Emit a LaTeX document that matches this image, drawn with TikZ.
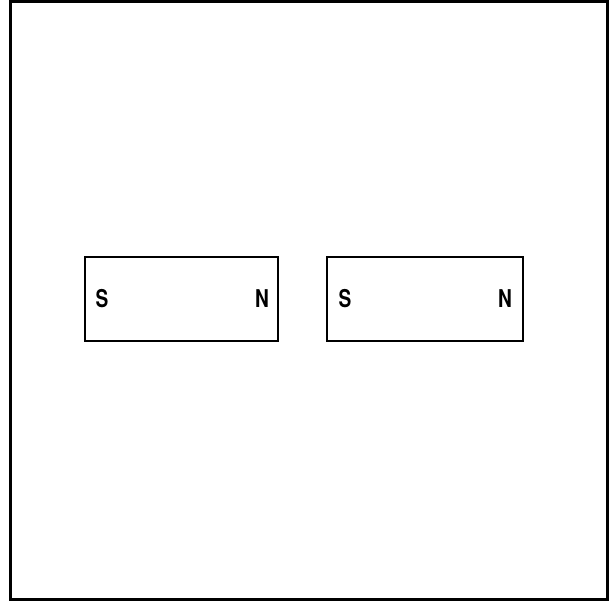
\documentclass[tikz,border=0pt]{standalone}
\usepackage{fontspec}
\setmainfont{TeX Gyre Heros}
\usetikzlibrary{positioning}
\newcommand{\polelabel}[1]{\scalebox{0.78}[1.0]{\bfseries #1}}
\tikzstyle{magnet} = [
  rectangle, draw, line width=2.2pt, minimum width=193pt, minimum height=84pt,
  inner sep=0pt
]
\tikzstyle{pole} = [inner sep=0pt, font=\fontsize{24.5pt}{26pt}\selectfont]
\begin{document}
\begin{tikzpicture}[x=1pt, y=-1pt]
    \useasboundingbox (0,0) rectangle (613,601);
    \draw[line width=3pt] (10,2) rectangle (607,599);

    \node[magnet] (left) at (181.5,299) {};
    \node[magnet, minimum width=196pt, right=47pt of left] (right) {};

    \node[pole] (ls) at (102,299) {\polelabel{S}};
    \node[pole] (ln) at (262,299) {\polelabel{N}};
    \node[pole] (rs) at (345,299) {\polelabel{S}};
    \node[pole] (rn) at (505,299) {\polelabel{N}};
  \end{tikzpicture}
\end{document}
